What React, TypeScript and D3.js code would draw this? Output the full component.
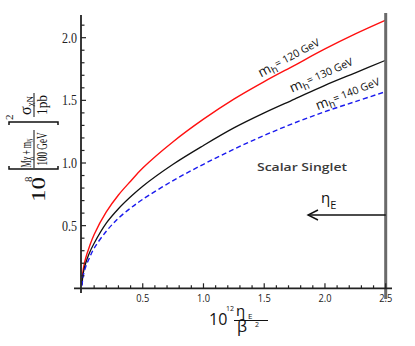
import * as d3 from "d3";

// Eta_E limit plot: sigma bound vs 10^12 eta_E / beta^2

const etaVals = [0, 0.01, 0.03, 0.06, 0.1, 0.2, 0.3, 0.4, 0.5, 0.75, 1.0, 1.25, 1.5, 1.75, 2.0, 2.25, 2.5];
const mh120 = [0.03, 0.15, 0.24, 0.33, 0.43, 0.61, 0.745, 0.855, 0.96, 1.17, 1.35, 1.51, 1.65, 1.78, 1.91, 2.03, 2.14];
const mh130 = [0.03, 0.12, 0.2, 0.28, 0.36, 0.52, 0.635, 0.73, 0.815, 0.99, 1.14, 1.28, 1.4, 1.51, 1.62, 1.72, 1.82];
const mh140 = [0.02, 0.1, 0.17, 0.24, 0.32, 0.455, 0.56, 0.64, 0.71, 0.86, 0.99, 1.11, 1.22, 1.32, 1.41, 1.49, 1.57];
const xTickLabels = ["0.5", "1.0", "1.5", "2.0", "2.5"];
const yTickLabels = ["0.5", "1.0", "1.5", "2.0"];
const curveLabels = ["120", "130", "140"];

const W = 415;
const H = 346;
const SERIF = "'Liberation Serif', 'DejaVu Serif', serif";
const SANS = "'Open Sans', 'DejaVu Sans', sans-serif";

export default function App() {
  const x = d3.scaleLinear().domain([0, 2.5]).range([82, 385.7]);
  const y = d3.scaleLinear().domain([0, 2]).range([288.3, 37.7]);

  const line = (vals: number[]) =>
    d3
      .line<number>()
      .x((_, i) => x(etaVals[i]))
      .y((d) => y(d))
      .curve(d3.curveCatmullRom.alpha(0.5))(vals) ?? "";

  const minor = d3.range(1, 26).map((i) => i / 10);
  const minorY = d3.range(1, 22).map((i) => i / 10);

  const series = [
    { vals: mh120, color: "#ff1010", width: 1.4, dash: "none" },
    { vals: mh130, color: "#111", width: 1.3, dash: "none" },
    { vals: mh140, color: "#1a1aee", width: 1.4, dash: "5 3" },
  ];

  // label anchors (data units) and angles along each curve
  const labelPos = [
    { ex: 1.72, v: 1.81, ang: -28 },
    { ex: 1.985, v: 1.67, ang: -24 },
    { ex: 2.2, v: 1.52, ang: -21.5 },
  ];

  return (
    <svg
      width={W}
      height={H}
      style={{ position: "absolute", left: 0, top: 0, background: "#fff" }}
    >
      {series.map((s, i) => (
        <path
          key={i}
          d={line(s.vals)}
          fill="none"
          stroke={s.color}
          strokeWidth={s.width}
          strokeDasharray={s.dash}
        />
      ))}

      {/* vertical limit line */}
      <line x1={x(2.5)} x2={x(2.5)} y1={13} y2={299} stroke="#6a6a6a" strokeWidth={3} />

      {/* axes */}
      <line x1={x(0) - 1} x2={x(0) - 1} y1={15} y2={293} stroke="#222" strokeWidth={1.8} />
      <line x1={74} x2={392} y1={y(0)} y2={y(0)} stroke="#222" strokeWidth={1.8} />

      {minor.map((t) => {
        const major = Math.abs(t * 2 - Math.round(t * 2)) < 1e-6;
        return (
          <line
            key={"xt" + t}
            x1={x(t)}
            x2={x(t)}
            y1={y(0)}
            y2={y(0) - (major ? 5 : 3)}
            stroke="#222"
            strokeWidth={1.2}
          />
        );
      })}
      {minorY.map((t) => {
        const major = Math.abs(t * 2 - Math.round(t * 2)) < 1e-6;
        return (
          <line
            key={"yt" + t}
            x1={x(0) - 1}
            x2={x(0) - 1 + (major ? 5 : 3.5)}
            y1={y(t)}
            y2={y(t)}
            stroke="#222"
            strokeWidth={1.2}
          />
        );
      })}

      {xTickLabels.map((l) => (
        <text
          key={"xl" + l}
          x={x(+l)}
          y={302}
          textAnchor="middle"
          fontFamily={SANS}
          fontSize={11}
          textLength={13}
          lengthAdjust="spacingAndGlyphs"
          fill="#222"
        >
          {l}
        </text>
      ))}
      {yTickLabels.map((l) => (
        <text
          key={"yl" + l}
          x={77}
          y={y(+l) + 5}
          textAnchor="end"
          fontFamily={SERIF}
          fontSize={14}
          textLength={15}
          lengthAdjust="spacingAndGlyphs"
          fill="#222"
        >
          {l}
        </text>
      ))}

      {/* curve labels */}
      {curveLabels.map((m, i) => {
        const p = labelPos[i];
        return (
          <text
            key={"cl" + m}
            transform={`translate(${x(p.ex)},${y(p.v)}) rotate(${p.ang})`}
            textAnchor="middle"
            fontFamily={SANS}
            fontSize={10.5}
            fill="#111"
          >
            <tspan fontSize={13.5}>m</tspan>
            <tspan fontSize={10} dy={3}>h</tspan>
            <tspan fontSize={10.5} dy={-4}>= {m} GeV</tspan>
          </text>
        );
      })}

      <text
        x={257}
        y={171}
        fontFamily={SANS}
        fontSize={11}
        fontWeight={600}
        fill="#3a3a3a"
        textLength={90}
        lengthAdjust="spacingAndGlyphs"
      >
        Scalar Singlet
      </text>

      {/* eta_E arrow */}
      <line x1={x(2.5)} x2={308} y1={215} y2={215} stroke="#111" strokeWidth={1.4} />
      <path d="M318,210 L308,215 L318,220" fill="none" stroke="#111" strokeWidth={1.4} />
      <text x={321} y={203} fontFamily={SANS} fontSize={15} fill="#111">
        η
        <tspan fontSize={11} dy={6}>E</tspan>
      </text>

      {/* x axis title */}
      <g fontFamily={SANS} fill="#111">
        <text x={209} y={325} fontSize={16}>10</text>
        <text x={226} y={311} fontSize={7}>12</text>
        <text x={236} y={316} fontSize={15}>η</text>
        <text x={248} y={318.5} fontSize={8}>E</text>
        <line x1={234} x2={268} y1={320.5} y2={320.5} stroke="#111" strokeWidth={1} />
        <text x={237} y={332} fontSize={16}>β</text>
        <text x={255} y={327} fontSize={7}>2</text>
      </g>

      {/* y axis title, rotated */}
      <g transform="translate(0,200) rotate(-90)" fontFamily={SERIF} fill="#111">
        <text x={-2} y={45} fontSize={19} textLength={25} lengthAdjust="spacingAndGlyphs">10</text>
        <text x={18} y={32} fontSize={11}>8</text>
        <path d="M34,9 L31,9 L31,58 L34,58" fill="none" stroke="#111" strokeWidth={1.5} />
        <text x={47} y={31} fontSize={14} textAnchor="middle" textLength={29} lengthAdjust="spacingAndGlyphs">
          Mχ + m
          <tspan fontSize={8} dy={2}>N</tspan>
        </text>
        <line x1={32} x2={70} y1={34} y2={34} stroke="#111" strokeWidth={1} />
        <text x={51} y={47} fontSize={14} textAnchor="middle" textLength={33} lengthAdjust="spacingAndGlyphs">
          100 GeV
        </text>
        <path d="M75,9 L78,9 L78,58 L75,58" fill="none" stroke="#111" strokeWidth={1.5} />
        <text x={80} y={13} fontSize={11}>2</text>
        <text x={85} y={31} fontSize={16}>
          σ<tspan fontSize={9} dy={2}>χN</tspan>
        </text>
        <line x1={83} x2={107} y1={34} y2={34} stroke="#111" strokeWidth={1} />
        <text x={95} y={47} fontSize={15} textAnchor="middle" textLength={20} lengthAdjust="spacingAndGlyphs">
          1pb
        </text>
      </g>
    </svg>
  );
}
